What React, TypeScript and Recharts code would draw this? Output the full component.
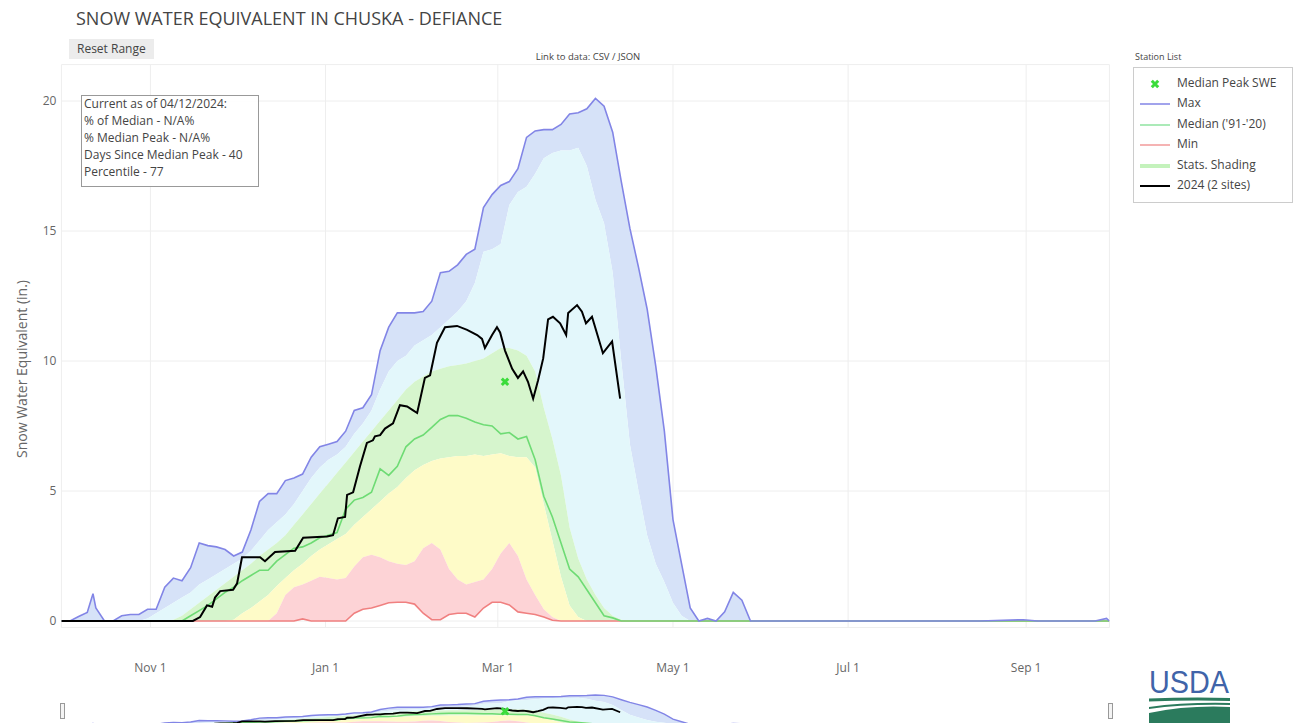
import React from 'react';
import { ComposedChart, Area, Line, Scatter, XAxis, YAxis, CartesianGrid } from 'recharts';

// Day index: 0 = Oct 1 2023 ... 365 = Sep 30 2024
const DAYS = [
  0, 3, 6, 9, 11, 12, 15, 18, 21, 24,
  27, 30, 33, 36, 39, 42, 45, 48, 51, 54,
  57, 60, 63, 66, 69, 72, 75, 78, 81, 84,
  87, 90, 93, 96, 99, 102, 105, 108, 111, 114,
  117, 120, 123, 126, 129, 132, 135, 138, 141, 144,
  147, 150, 153, 156, 159, 162, 165, 168, 171, 174,
  177, 180, 183, 186, 189, 192, 195, 198, 201, 204,
  207, 210, 213, 216, 219, 222, 225, 228, 231, 234,
  237, 240, 250, 260, 280, 300, 320, 335, 340, 360,
  364, 365,
];

const MAX = [
  0, 0, 0.17, 0.33, 1.05, 0.5, 0, 0, 0.2, 0.25,
  0.25, 0.45, 0.45, 1.3, 1.65, 1.55, 2.05, 3.0, 2.9, 2.85,
  2.75, 2.5, 2.65, 3.5, 4.6, 4.9, 4.9, 5.4, 5.5, 5.65,
  6.3, 6.7, 6.8, 6.9, 7.3, 8.1, 8.2, 8.7, 10.4, 11.3,
  11.85, 11.85, 11.85, 11.9, 12.3, 13.4, 13.45, 13.7, 14.1, 14.3,
  15.9, 16.4, 16.75, 16.9, 17.4, 18.6, 18.85, 18.9, 18.9, 19.1,
  19.5, 19.55, 19.7, 20.1, 19.8, 18.8, 16.9, 15.1, 13.6, 12.0,
  9.8, 7.3, 3.9, 2.2, 0.5, 0, 0.1, 0, 0.35, 1.1,
  0.8, 0, 0, 0, 0, 0, 0, 0.05, 0, 0,
  0.1, 0,
];

const P90 = [
  0, 0, 0, 0, 0, 0, 0, 0, 0, 0,
  0, 0.1, 0.3, 0.5, 0.7, 0.9, 1.1, 1.4, 1.6, 1.8,
  2.0, 2.2, 2.4, 2.7, 3.1, 3.5, 3.8, 4.1, 4.5, 5.0,
  5.5, 5.9, 6.2, 6.4, 6.7, 7.2, 7.6, 8.1, 8.9, 9.6,
  10.0, 10.2, 10.6, 10.8, 11.0, 11.3, 11.6, 11.9, 12.3, 13.0,
  14.2, 14.3, 14.5, 16.0, 16.5, 16.7, 17.2, 17.8, 18.0, 18.1,
  18.1, 18.2, 17.5, 16.2, 15.3, 13.4, 10.0, 6.8, 5.0, 3.3,
  2.2, 1.5, 0.7, 0.2, 0, 0, 0, 0, 0, 0,
  0, 0, 0, 0, 0, 0, 0, 0, 0, 0,
  0, 0,
];

const P70 = [
  0, 0, 0, 0, 0, 0, 0, 0, 0, 0,
  0, 0, 0, 0, 0.05, 0.2, 0.45, 0.7, 0.95, 1.2,
  1.45, 1.7, 1.95, 2.2, 2.5, 2.75, 3.0, 3.3, 3.7, 4.1,
  4.5, 4.9, 5.3, 5.7, 6.1, 6.5, 6.9, 7.3, 7.7, 8.1,
  8.5, 8.9, 9.2, 9.4, 9.6, 9.7, 9.8, 9.85, 9.9, 10.0,
  10.1, 10.3, 10.5, 10.5, 10.4, 10.2, 9.6, 8.2, 7.0, 5.6,
  3.6, 2.4, 1.6, 1.0, 0.5, 0.2, 0.05, 0, 0, 0,
  0, 0, 0, 0, 0, 0, 0, 0, 0, 0,
  0, 0, 0, 0, 0, 0, 0, 0, 0, 0,
  0, 0,
];

const MEDIAN = [
  0, 0, 0, 0, 0, 0, 0, 0, 0, 0,
  0, 0, 0, 0, 0, 0, 0.2, 0.4, 0.6, 0.85,
  1.1, 1.3, 1.55, 1.75, 1.95, 1.95, 2.3, 2.55, 2.8, 2.85,
  3.0, 3.2, 3.3, 3.4, 4.3, 4.65, 4.75, 4.95, 5.85, 5.6,
  5.95, 6.7, 7.0, 7.15, 7.45, 7.75, 7.9, 7.9, 7.8, 7.65,
  7.55, 7.5, 7.2, 7.25, 7.0, 7.1, 6.2, 4.8, 4.0, 3.0,
  2.0, 1.7, 1.2, 0.7, 0.2, 0.12, 0, 0, 0, 0,
  0, 0, 0, 0, 0, 0, 0, 0, 0, 0,
  0, 0, 0, 0, 0, 0, 0, 0, 0, 0,
  0, 0,
];

const P30 = [
  0, 0, 0, 0, 0, 0, 0, 0, 0, 0,
  0, 0, 0, 0, 0, 0, 0, 0, 0, 0,
  0, 0.05, 0.3, 0.5, 0.75, 1.0, 1.35, 1.65, 1.95, 2.2,
  2.5, 2.75, 2.95, 3.15, 3.35, 3.7, 4.0, 4.3, 4.6, 4.9,
  5.15, 5.5, 5.8, 6.0, 6.15, 6.25, 6.3, 6.35, 6.35, 6.4,
  6.35, 6.4, 6.45, 6.35, 6.3, 6.3, 5.9, 4.5, 3.1, 1.7,
  0.6, 0.15, 0, 0, 0, 0, 0, 0, 0, 0,
  0, 0, 0, 0, 0, 0, 0, 0, 0, 0,
  0, 0, 0, 0, 0, 0, 0, 0, 0, 0,
  0, 0,
];

const P10 = [
  0, 0, 0, 0, 0, 0, 0, 0, 0, 0,
  0, 0, 0, 0, 0, 0, 0, 0, 0, 0,
  0, 0, 0, 0, 0, 0, 0.3, 1.0, 1.3, 1.4,
  1.55, 1.7, 1.65, 1.6, 1.65, 2.1, 2.45, 2.55, 2.45, 2.3,
  2.2, 2.15, 2.3, 2.8, 3.0, 2.75, 2.0, 1.6, 1.4, 1.5,
  1.6, 2.0, 2.6, 3.0, 2.5, 1.6, 1.0, 0.45, 0.15, 0,
  0, 0, 0, 0, 0, 0, 0, 0, 0, 0,
  0, 0, 0, 0, 0, 0, 0, 0, 0, 0,
  0, 0, 0, 0, 0, 0, 0, 0, 0, 0,
  0, 0,
];

const MIN = [
  0, 0, 0, 0, 0, 0, 0, 0, 0, 0,
  0, 0, 0, 0, 0, 0, 0, 0, 0, 0,
  0, 0, 0, 0, 0, 0, 0, 0, 0, 0.08,
  0, 0, 0, 0, 0, 0.3, 0.45, 0.5, 0.6, 0.7,
  0.72, 0.72, 0.65, 0.3, 0.05, 0.05, 0.25, 0.3, 0.3, 0.15,
  0.5, 0.72, 0.72, 0.62, 0.35, 0.3, 0.25, 0.15, 0.03, 0,
  0, 0, 0, 0, 0, 0, 0, 0, 0, 0,
  0, 0, 0, 0, 0, 0, 0, 0, 0, 0,
  0, 0, 0, 0, 0, 0, 0, 0, 0, 0,
  0, 0,
];

// 2024 water year (2 sites), read at its own days
const WY2024_DAYS = [
  0, 45.8, 48.3, 50.7, 52.5, 53.5, 55.3, 59.8, 61.2, 62.9,
  69.2, 70.9, 74.4, 81.4, 84.2, 92.5, 94.6, 96.3, 98.8, 99.5,
  101.6, 104.0, 106.4, 108.5, 109.2, 111.0, 112.7, 115.5, 117.9, 120.4,
  122.5, 123.9, 124.9, 126.6, 128.4, 130.8, 133.6, 137.8, 141.3, 144.8,
  146.5, 147.5, 150.0, 151.7, 152.8, 154.5, 157.0, 159.0, 160.8, 162.5,
  164.3, 166.0, 167.8, 169.5, 171.2, 173.7, 175.8, 176.5, 179.6, 181.3,
  182.7, 184.8, 188.6, 191.8, 194.6,
];
const WY2024_SWE = [
  0, 0, 0.15, 0.6, 0.55, 0.9, 1.15, 1.2, 1.45, 2.45,
  2.45, 2.3, 2.65, 2.7, 3.2, 3.25, 3.3, 3.95, 4.0, 4.85,
  4.95, 5.95, 6.85, 6.95, 7.1, 7.15, 7.4, 7.6, 8.3, 8.25,
  8.1, 8.0, 8.5, 9.35, 9.45, 10.7, 11.3, 11.35, 11.2, 11.0,
  10.85, 10.5, 11.0, 11.3, 11.1, 10.4, 9.7, 9.35, 9.6, 9.2,
  8.55, 9.25, 10.1, 11.6, 11.7, 11.45, 11.0, 11.85, 12.15, 11.9,
  11.45, 11.7, 10.3, 10.75, 8.55,
];

const MEDIAN_PEAK = [{ day: 154.5, value: 9.2 }];

const TICK_DAYS = [31, 92, 152, 213, 274, 336];
const TICK_LABELS = ['Nov 1', 'Jan 1', 'Mar 1', 'May 1', 'Jul 1', 'Sep 1'];
const Y_TICKS = [0, 5, 10, 15, 20];

const ANNOTATION_LINES = [
  'Current as of 04/12/2024:',
  '% of Median - N/A%',
  '% Median Peak - N/A%',
  'Days Since Median Peak - 40',
  'Percentile - 77',
];

const C = {
  max: '#8285e6',
  median: '#6edb74',
  min: '#f08080',
  y2024: '#000000',
  peak: '#3bdc3b',
  blue: '#d6e2f8',
  cyan: '#e3f7fb',
  green: '#d6f5cd',
  yellow: '#fefbc8',
  pink: '#fdd3d6',
  text: '#444444',
  tick: '#666666',
};

const LEGEND_ITEMS = [
  { label: 'Median Peak SWE', kind: 'x', color: C.peak },
  { label: 'Max', kind: 'line', color: C.max, w: 1.5 },
  { label: "Median ('91-'20)", kind: 'line', color: '#8fe3a0', w: 1.5 },
  { label: 'Min', kind: 'line', color: '#f29a9a', w: 1.5 },
  { label: 'Stats. Shading', kind: 'line', color: '#c4f2bc', w: 4 },
  { label: '2024 (2 sites)', kind: 'line', color: '#000000', w: 2 },
];

const rows = DAYS.map((day, i) => ({
  day,
  max: MAX[i],
  median: MEDIAN[i],
  min: MIN[i],
  bandBlue: [P90[i], MAX[i]],
  bandCyan: [P70[i], P90[i]],
  bandGreen: [P30[i], P70[i]],
  bandYellow: [P10[i], P30[i]],
  bandPink: [MIN[i], P10[i]],
}));

const wyRows = WY2024_DAYS.map((day, i) => ({ day, swe: WY2024_SWE[i] }));

const XMark = (props: any) => {
  const { cx, cy } = props;
  if (cx == null || cy == null) return null;
  const r = 3.2;
  return (
    <path
      d={`M${cx - r},${cy - r}L${cx + r},${cy + r}M${cx - r},${cy + r}L${cx + r},${cy - r}`}
      stroke={C.peak}
      strokeWidth={3}
      fill="none"
    />
  );
};

function bands() {
  const list: [string, string][] = [
    ['bandBlue', C.blue],
    ['bandCyan', C.cyan],
    ['bandGreen', C.green],
    ['bandYellow', C.yellow],
    ['bandPink', C.pink],
  ];
  return list.map(([k, col]) => (
    <Area
      key={k}
      dataKey={k}
      type="linear"
      stroke="none"
      fill={col}
      fillOpacity={1}
      isAnimationActive={false}
      dot={false}
      activeDot={false}
    />
  ));
}

function lines(scale: number) {
  return [
    <Line key="min" dataKey="min" type="linear" stroke={C.min} strokeWidth={1.6 * scale} dot={false} activeDot={false} isAnimationActive={false} />,
    <Line key="median" dataKey="median" type="linear" stroke={C.median} strokeWidth={1.6 * scale} dot={false} activeDot={false} isAnimationActive={false} />,
    <Line key="max" dataKey="max" type="linear" stroke={C.max} strokeWidth={1.6 * scale} dot={false} activeDot={false} isAnimationActive={false} />,
    <Line key="y2024" data={wyRows} dataKey="swe" type="linear" stroke={C.y2024} strokeWidth={2 * scale} dot={false} activeDot={false} isAnimationActive={false} />,
    <Scatter key="peak" data={MEDIAN_PEAK} dataKey="value" shape={<XMark />} isAnimationActive={false} />,
  ];
}

const abs = (s: React.CSSProperties): React.CSSProperties => ({ position: 'absolute', ...s });

export default function App() {
  return (
    <div
      style={{
        position: 'fixed',
        left: 0,
        top: 0,
        width: 1296,
        height: 723,
        overflow: 'hidden',
        background: '#ffffff',
        fontFamily: '"Open Sans", "Noto Sans", sans-serif',
        color: C.text,
      }}
    >
      {/* main chart */}
      <div style={abs({ left: 0, top: 0 })}>
        <ComposedChart width={1296} height={700} data={rows} margin={{ top: 64.6, right: 186.6, bottom: 32.5, left: 0 }}>
          <CartesianGrid stroke="#eeeeee" strokeWidth={1} />
          <XAxis
            dataKey="day"
            type="number"
            domain={[0, 365]}
            ticks={TICK_DAYS}
            interval={0}
            tickFormatter={(v: number) => TICK_LABELS[TICK_DAYS.indexOf(v)]}
            axisLine={false}
            tickLine={false}
            tickSize={0}
            tickMargin={36}
            height={40}
            tick={{ fill: C.tick, fontSize: 12, fontFamily: '"Open Sans", sans-serif' }}
            allowDataOverflow
          />
          <YAxis
            type="number"
            domain={[-0.25, 21.4]}
            ticks={Y_TICKS}
            interval={0}
            width={61.4}
            axisLine={false}
            tickLine={false}
            tickSize={0}
            tickMargin={5}
            tick={{ fill: C.tick, fontSize: 12, fontFamily: '"Open Sans", sans-serif' }}
            allowDataOverflow
          />
          {bands()}
          {lines(1)}
        </ComposedChart>
      </div>

      {/* range slider mini chart */}
      <div style={abs({ left: 0, top: 693 })}>
        <ComposedChart width={1296} height={32} data={rows} margin={{ top: 0, right: 186.6, bottom: 0, left: 61.4 }}>
          <XAxis dataKey="day" type="number" domain={[0, 365]} hide />
          <YAxis type="number" domain={[0, 21.4]} hide allowDataOverflow />
          {bands()}
          {lines(0.9)}
        </ComposedChart>
      </div>
      <div style={abs({ left: 60, top: 703, width: 3, height: 14, border: '1px solid #999', background: '#f4f4f4' })} />
      <div style={abs({ left: 1108, top: 703, width: 3, height: 14, border: '1px solid #999', background: '#f4f4f4' })} />

      {/* title */}
      <div style={abs({ left: 76, top: 9, fontSize: 18, lineHeight: '18px', whiteSpace: 'nowrap', color: '#444' })}>
        SNOW WATER EQUIVALENT IN CHUSKA - DEFIANCE
      </div>

      {/* reset range button */}
      <div style={abs({ left: 69, top: 39, width: 85, height: 20, background: '#ececec' })} />
      <div style={abs({ left: 77, top: 42.5, fontSize: 12, lineHeight: '12px', whiteSpace: 'nowrap', color: '#444' })}>Reset Range</div>

      {/* link to data */}
      <div style={abs({ left: 588, top: 51.5, transform: 'translateX(-50%)', fontSize: 9.5, lineHeight: '9.5px', whiteSpace: 'nowrap', color: '#444' })}>
        Link to data: CSV / JSON
      </div>

      {/* y axis title */}
      <div
        style={abs({
          left: 22,
          top: 369,
          transform: 'translate(-50%, -50%) rotate(-90deg)',
          fontSize: 14,
          lineHeight: '14px',
          whiteSpace: 'nowrap',
          color: C.tick,
        })}
      >
        Snow Water Equivalent (in.)
      </div>

      {/* annotation box */}
      <div
        style={abs({
          left: 81,
          top: 95,
          width: 174,
          height: 90,
          border: '1px solid #999',
          background: 'rgba(255,255,255,0.9)',
          padding: '0 0 0 2px',
          fontSize: 12,
          lineHeight: '16.9px',
          color: '#444',
          whiteSpace: 'nowrap',
        })}
      >
        {ANNOTATION_LINES.map((t) => (
          <div key={t}>{t}</div>
        ))}
      </div>

      {/* legend */}
      <div style={abs({ left: 1135, top: 51.5, fontSize: 9, lineHeight: '9px', whiteSpace: 'nowrap', color: '#444' })}>Station List</div>
      <div style={abs({ left: 1133, top: 67, width: 158, height: 134, border: '1px solid #cccccc', background: '#fff' })} />
      {LEGEND_ITEMS.map((it, i) => {
        const cy = 84 + i * 20.4;
        return (
          <React.Fragment key={it.label}>
            <svg style={abs({ left: 1138, top: cy - 6, width: 34, height: 12 })} width={34} height={12}>
              {it.kind === 'x' ? (
                <path d="M13.8,2.8L20.2,9.2M13.8,9.2L20.2,2.8" stroke={it.color} strokeWidth={3} />
              ) : (
                <line x1={2} y1={6} x2={32} y2={6} stroke={it.color} strokeWidth={it.w} />
              )}
            </svg>
            <div style={abs({ left: 1177, top: cy - 7, fontSize: 12, lineHeight: '12px', whiteSpace: 'nowrap', color: '#444' })}>
              {it.label}
            </div>
          </React.Fragment>
        );
      })}

      {/* USDA logo */}
      <svg style={abs({ left: 1140, top: 660, width: 100, height: 63 })} width={100} height={63}>
        <text
          x={9}
          y={33}
          fontSize={31}
          textLength={80}
          lengthAdjust="spacingAndGlyphs"
          fill="#4064a9"
          fontFamily='"Liberation Sans Narrow", "Liberation Sans", Arial, sans-serif'
        >
          USDA
        </text>
        <path d="M9,38.5 Q50,37 90,38 L90,41 Q50,40 9,41.5 Z" fill="#2b7b5d" />
        <path d="M9,47 Q45,42 90,43 L90,45 Q45,44 9,49 Z" fill="#2b7b5d" />
        <path d="M9,53 Q48,45 90,47 L90,63 L9,63 Z" fill="#2b7b5d" />
      </svg>
    </div>
  );
}
